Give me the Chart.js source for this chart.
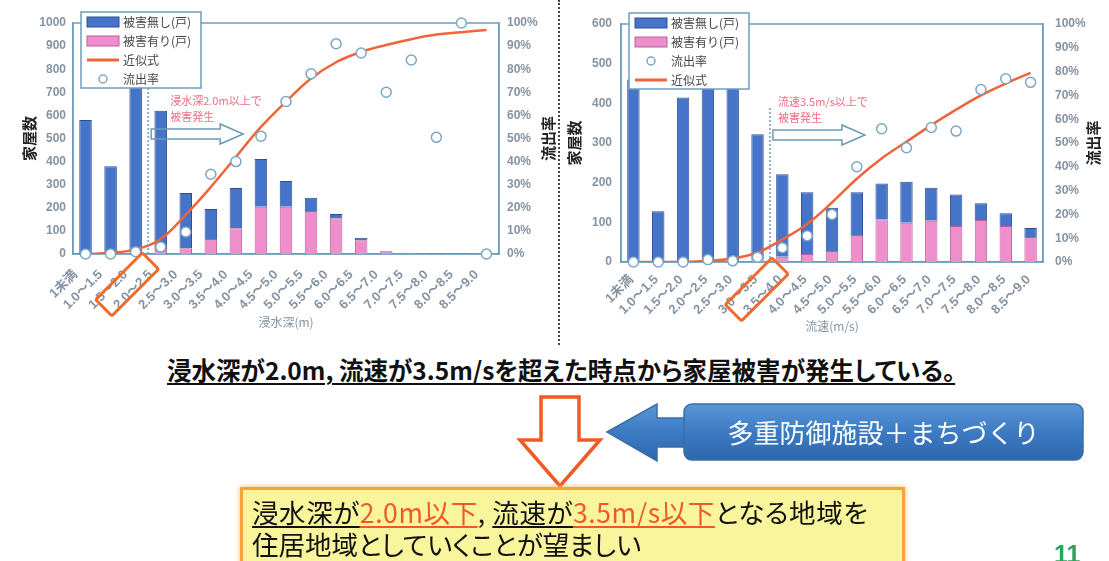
<!DOCTYPE html>
<html>
<head>
<meta charset="utf-8">
<script src="https://cdn.jsdelivr.net/npm/chart.js@4.4.1/dist/chart.umd.min.js"></script>
<style>
body { margin: 0; background: #fff; width: 1109px; height: 561px; overflow: hidden; position: relative; font-family: "Noto Sans CJK JP", sans-serif; }
#depthChart { position: absolute; left: 0; top: 0; }
#speedChart { position: absolute; left: 562px; top: 0; }
#divider { position: absolute; left: 558px; top: 0; height: 345px; border-left: 2px dotted #444; }
#finding { position: absolute; left: 167px; top: 355px; font: bold 24.5px/29px "Noto Sans CJK JP"; color: #111; white-space: nowrap;
  font-feature-settings: "palt"; text-decoration: underline; text-decoration-thickness: 2px; text-underline-offset: 3px; }
#shapes { position: absolute; left: 0; top: 0; }
#measure { position: absolute; left: 684px; top: 404px; width: 399px; height: 56px; line-height: 56px; text-align: center;
  color: #fff; font-size: 26px; white-space: nowrap; }
#goal { position: absolute; left: 240px; top: 487px; width: 665px; height: 80px; box-sizing: border-box; background: #f8f59c;
  border: 3px solid #f5a23a; box-shadow: 0 0 5px #f7b466; padding: 6px 0 0 9px; font: 26.5px/32px "Noto Sans CJK JP"; color: #111;
  white-space: nowrap; font-feature-settings: "palt"; }
#goal .first { letter-spacing: 0.6px; }
#goal .u, #goal .hl { text-decoration: underline; text-decoration-thickness: 2px; text-underline-offset: 3px; }
#goal .hl { color: #f0582a; }
#page { position: absolute; left: 1054px; top: 540px; color: #29a55a; font: bold 25px "Liberation Sans", sans-serif; }
</style>
</head>
<body>
<canvas id="depthChart" width="556" height="340"></canvas>
<canvas id="speedChart" width="547" height="340"></canvas>
<div id="divider"></div>
<div id="finding">浸水深が2.0m, 流速が3.5m/sを超えた時点から家屋被害が発生している。</div>
<svg id="shapes" width="1109" height="561">
  <defs>
    <linearGradient id="blueFill" x1="0" y1="0" x2="0" y2="1">
      <stop offset="0" stop-color="#5a95d6"/>
      <stop offset="0.5" stop-color="#3c7bc3"/>
      <stop offset="1" stop-color="#2f67ad"/>
    </linearGradient>
  </defs>
  <polygon points="541,397 579,397 579,440 600,440 560,486 520,440 541,440" fill="#fff" stroke="#f05a24" stroke-width="3.5" stroke-linejoin="miter"/>
  <polygon points="607,432 657,404 657,418 690,418 690,447 657,447 657,461" fill="url(#blueFill)" stroke="#3a6ea8" stroke-width="1.5"/>
  <rect x="684" y="404" width="399" height="56" rx="8" fill="url(#blueFill)" stroke="#3a6ea8" stroke-width="1.5"/>
</svg>
<div id="measure">多重防御施設＋まちづくり</div>
<div id="goal"><span class="first"><span class="u">浸水深が</span><span class="hl">2.0m以下</span>, <span class="u">流速が</span><span class="hl">3.5m/s以下</span>となる地域を</span><br>住居地域としていくことが望ましい</div>
<div id="page">11</div>
<script>
// 浸水深別 (left chart)
var depthLabels = ['1未満', '1.0～1.5', '1.5～2.0', '2.0～2.5', '2.5～3.0', '3.0～3.5', '3.5～4.0', '4.0～4.5', '4.5～5.0',
    '5.0～5.5', '5.5～6.0', '6.0～6.5', '6.5～7.0', '7.0～7.5', '7.5～8.0', '8.0～8.5', '8.5～9.0'];
var depthNoDamage = [580, 380, 755, 602, 239, 130, 174, 206, 111, 57, 18, 10, 4, 1, 2, 0, 0];
var depthDamaged = [0, 0, 5, 18, 25, 65, 112, 205, 205, 186, 155, 60, 8, 4, 2, 3, 0];
var depthRate = [0, 0, 1, 3, 9.5, 34.5, 40, 51, 66, 78, 91, 87, 70, 84, 50.5, 100, 0];
var depthFit = [0, 0.5, 2, 6.5, 17, 29, 42, 55, 66, 76, 83, 87.5, 90.5, 93, 95, 96, 97];

// 流速別 (right chart)
var speedLabels = ['1未満', '1.0～1.5', '1.5～2.0', '2.0～2.5', '2.5～3.0', '3.0～3.5', '3.5～4.0', '4.0～4.5', '4.5～5.0',
    '5.0～5.5', '5.5～6.0', '6.0～6.5', '6.5～7.0', '7.0～7.5', '7.5～8.0', '8.0～8.5', '8.5～9.0'];
var speedNoDamage = [460, 128, 415, 466, 453, 316, 208, 156, 109, 108, 90, 103, 83, 79, 42, 32, 23];
var speedDamaged = [0, 0, 0, 4, 2, 6, 13, 20, 28, 68, 108, 99, 104, 91, 106, 91, 63];
var speedRate = [0, 0, 0, 1, 0.5, 2, 6, 11, 20, 40, 56, 48, 56.5, 55, 72.5, 77, 75.5];
var speedFit = [0, 0, 0, 0.5, 1.5, 4, 9.5, 16, 25, 35, 43.5, 50.5, 57.5, 64, 70, 75, 79.5];

var axisColor = '#6f9dbe';
var tickColor = '#8493a3';
var jp = '"Noto Sans CJK JP", sans-serif';
var num = '"Liberation Sans", "Noto Sans CJK JP", sans-serif';

// box around the plot area
function plotFrame() {
    return {
        id: 'plotFrame',
        beforeDatasetsDraw: function (chart) {
            var a = chart.chartArea, ctx = chart.ctx;
            ctx.save();
            ctx.strokeStyle = axisColor;
            ctx.lineWidth = 1.5;
            ctx.strokeRect(a.left, a.top, a.right - a.left, a.bottom - a.top);
            ctx.restore();
        }
    };
}

// right axis title, read bottom to top like the left one
function sideTitle(text, x) {
    return {
        id: 'sideTitle',
        afterDraw: function (chart) {
            var a = chart.chartArea, ctx = chart.ctx;
            ctx.save();
            ctx.translate(x, (a.top + a.bottom) / 2);
            ctx.rotate(-Math.PI / 2);
            ctx.font = 'bold 15px ' + jp;
            ctx.fillStyle = '#222';
            ctx.textAlign = 'center';
            ctx.textBaseline = 'middle';
            ctx.fillText(text, 0, 0);
            ctx.restore();
        }
    };
}

// dotted threshold line, note and hollow arrow
function threshold(index, lines, lineTop, textDx) {
    return {
        id: 'threshold',
        afterDatasetsDraw: function (chart) {
            var ctx = chart.ctx, a = chart.chartArea, xs = chart.scales.x;
            var lx = (xs.getPixelForValue(index - 1) + xs.getPixelForValue(index)) / 2;
            ctx.save();
            ctx.strokeStyle = axisColor;
            ctx.lineWidth = 1.5;
            ctx.setLineDash([2, 2]);
            ctx.beginPath();
            ctx.moveTo(lx, a.top + lineTop);
            ctx.lineTo(lx, a.bottom);
            ctx.stroke();
            ctx.setLineDash([]);
            ctx.font = '11px ' + jp;
            ctx.fillStyle = '#ee6d82';
            ctx.textBaseline = 'middle';
            lines.forEach(function (t, i) {
                ctx.fillText(t, lx + textDx, a.top + 78 + i * 16);
            });
            var ay = a.top + 111, x1 = lx + 3, x2 = lx + 72, x3 = lx + 95;
            ctx.beginPath();
            ctx.moveTo(x1, ay - 5);
            ctx.lineTo(x2, ay - 5);
            ctx.lineTo(x2, ay - 10);
            ctx.lineTo(x3, ay);
            ctx.lineTo(x2, ay + 10);
            ctx.lineTo(x2, ay + 5);
            ctx.lineTo(x1, ay + 5);
            ctx.closePath();
            ctx.strokeStyle = '#6b9ab6';
            ctx.stroke();
            ctx.restore();
        }
    };
}

// orange frame round one tick label, placed from the scale's own label item
function labelMark(index) {
    return {
        id: 'labelMark',
        afterDraw: function (chart) {
            var xs = chart.scales.x, ctx = chart.ctx;
            var item = xs.getLabelItems()[index];
            var t = item.options.translation;
            ctx.save();
            ctx.font = item.font.string;
            var w = ctx.measureText(item.label).width;
            ctx.translate(t[0], t[1]);
            ctx.rotate(item.options.rotation);
            ctx.strokeStyle = '#f06a2a';
            ctx.lineWidth = 3;
            ctx.beginPath();
            ctx.roundRect(-w - 9, -12, w + 17, 23, 2);
            ctx.stroke();
            ctx.restore();
        }
    };
}

// legend box inside the plot, in the order given
function legendBox(order) {
    return {
        id: 'legendBox',
        afterDraw: function (chart) {
            var ctx = chart.ctx, a = chart.chartArea;
            var x0 = a.left + 8, y0 = a.top - 11, w = 120, h = 76;
            ctx.save();
            ctx.fillStyle = '#fff';
            ctx.fillRect(x0, y0, w, h);
            ctx.strokeStyle = axisColor;
            ctx.lineWidth = 1.5;
            ctx.strokeRect(x0, y0, w, h);
            ctx.font = '12px ' + jp;
            ctx.textBaseline = 'middle';
            order.forEach(function (di, row) {
                var ds = chart.data.datasets[di];
                var cy = y0 + 10 + row * 19, sx = x0 + 6, sw = 32;
                if (ds.type === 'bar') {
                    ctx.fillStyle = ds.backgroundColor;
                    ctx.fillRect(sx, cy - 5, sw, 10);
                    ctx.strokeStyle = ds.borderColor;
                    ctx.lineWidth = 1;
                    ctx.strokeRect(sx, cy - 5, sw, 10);
                } else if (ds.showLine === false) {
                    ctx.beginPath();
                    ctx.arc(sx + sw / 2, cy, 4, 0, Math.PI * 2);
                    ctx.fillStyle = '#fff';
                    ctx.fill();
                    ctx.strokeStyle = ds.pointBorderColor;
                    ctx.lineWidth = 1.5;
                    ctx.stroke();
                } else {
                    ctx.strokeStyle = ds.borderColor;
                    ctx.lineWidth = 3;
                    ctx.beginPath();
                    ctx.moveTo(sx, cy);
                    ctx.lineTo(sx + sw, cy);
                    ctx.stroke();
                }
                ctx.fillStyle = '#444';
                ctx.fillText(ds.label, sx + sw + 4, cy);
            });
            ctx.restore();
        }
    };
}

function buildChart(id, labels, damaged, noDamage, rate, fit, yMax, v) {
    var tickFont = { family: num, size: 12, weight: 'bold' };
    return new Chart(document.getElementById(id).getContext('2d'), {
        type: 'bar',
        data: {
            labels: labels,
            datasets: [{
                type: 'bar', label: '被害有り(戸)', data: damaged, yAxisID: 'y', order: 3,
                backgroundColor: '#ee8ecb', borderColor: '#b95f9c', borderWidth: 1,
                barPercentage: 0.5, categoryPercentage: 1
            }, {
                type: 'bar', label: '被害無し(戸)', data: noDamage, yAxisID: 'y', order: 3,
                backgroundColor: '#4674c8', borderColor: '#2c4f92', borderWidth: 1,
                barPercentage: 0.5, categoryPercentage: 1
            }, {
                type: 'line', label: '近似式', data: fit, yAxisID: 'y2', order: 2,
                borderColor: '#f0643c', borderWidth: 2.5, pointRadius: 0, tension: 0.4
            }, {
                type: 'line', label: '流出率', data: rate, yAxisID: 'y2', order: 1, showLine: false, clip: false,
                pointRadius: 5, pointBackgroundColor: '#fff', pointBorderColor: '#7da6c4', pointBorderWidth: 1.5
            }]
        },
        options: {
            responsive: false,
            animation: false,
            layout: { padding: { top: v.top } },
            plugins: { legend: { display: false }, tooltip: { enabled: false } },
            scales: {
                x: {
                    stacked: true,
                    grid: { display: false, drawTicks: false },
                    border: { color: axisColor, width: 1.5 },
                    ticks: {
                        autoSkip: false, minRotation: 45, maxRotation: 45, padding: v.xPad, labelOffset: v.xShift,
                        color: tickColor, font: { family: num, size: 13, weight: 'bold' }
                    },
                    title: { display: true, text: v.xTitle, color: tickColor, font: { family: jp, size: 12 }, padding: { top: 0, bottom: v.xTitlePad } },
                    afterFit: function (s) { s.height = v.xHeight; }
                },
                y: {
                    stacked: true, min: 0, max: yMax,
                    grid: { display: false, drawTicks: false },
                    border: { color: axisColor, width: 1.5 },
                    ticks: { stepSize: 100, padding: v.yPad, color: tickColor, font: tickFont, callback: function (val) { return String(val); } },
                    title: { display: true, text: '家屋数', color: '#222', font: { family: jp, size: 15, weight: 'bold' }, padding: { top: v.yTitlePad, bottom: 0 } },
                    afterFit: function (s) { s.width = v.yWidth; }
                },
                y2: {
                    position: 'right', min: 0, max: 100,
                    grid: { display: false, drawTicks: false },
                    border: { color: axisColor, width: 1.5 },
                    ticks: { stepSize: 10, padding: v.y2Pad, color: tickColor, font: tickFont, callback: function (val) { return val + '%'; } },
                    afterFit: function (s) { s.width = v.y2Width; }
                }
            }
        },
        plugins: [plotFrame(), threshold(v.mark, v.note, v.lineTop, v.noteDx), labelMark(v.mark), legendBox(v.order), sideTitle('流出率', v.sideX)]
    });
}

window.depthChart = buildChart('depthChart', depthLabels, depthDamaged, depthNoDamage, depthRate, depthFit, 1000, {
    top: 23, xHeight: 86, yWidth: 73, y2Width: 57, yPad: 7, y2Pad: 8, yTitlePad: 20, xTitle: '浸水深(m)', xTitlePad: 10,
    xPad: 13, xShift: -10,
    mark: 3, note: ['浸水深2.0m以上で', '被害発生'], lineTop: 65, noteDx: 22, order: [1, 0, 2, 3], sideX: 548
});
window.speedChart = buildChart('speedChart', speedLabels, speedDamaged, speedNoDamage, speedRate, speedFit, 600, {
    top: 24, xHeight: 78, yWidth: 59, y2Width: 66, yPad: 9, y2Pad: 12, yTitlePad: 3, xTitle: '流速(m/s)', xTitlePad: 6,
    xPad: 10, xShift: -2,
    mark: 6, note: ['流速3.5m/s以上で', '被害発生'], lineTop: 84, noteDx: 8, order: [1, 0, 3, 2], sideX: 531
});
</script>
</body>
</html>
